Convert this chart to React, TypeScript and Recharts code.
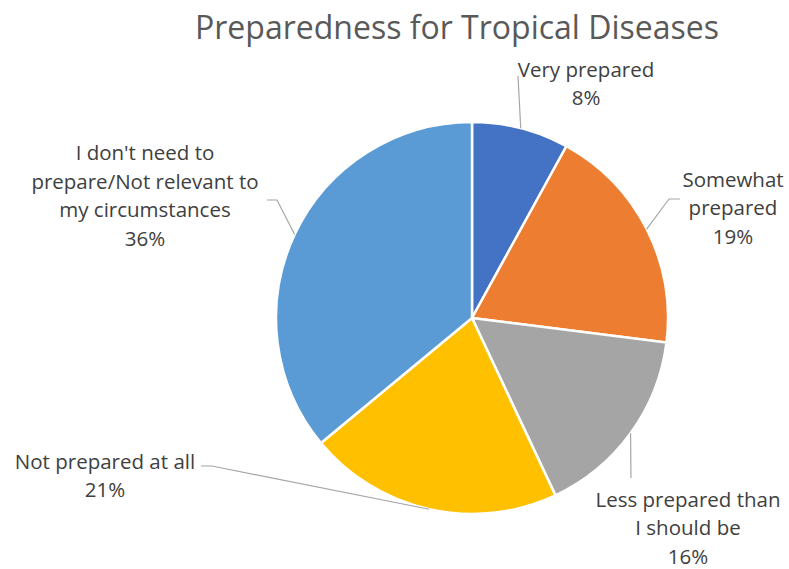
import React from "react";
import { PieChart, Pie, Cell } from "recharts";

const categories = [
  "Very prepared",
  "Somewhat prepared",
  "Less prepared than I should be",
  "Not prepared at all",
  "I don't need to prepare/Not relevant to my circumstances",
];
const shares = [8, 19, 16, 21, 36];
const labelLines = [
  ["Very prepared"],
  ["Somewhat", "prepared"],
  ["Less prepared than", "I should be"],
  ["Not prepared at all"],
  ["I don't need to", "prepare/Not relevant to", "my circumstances"],
];
const colors = ["#4472C4", "#ED7D31", "#A5A5A5", "#FFC000", "#5B9BD5"];

const data = categories.map((name, i) => ({ name, value: shares[i] }));

// label block centre and leader-line start, relative to the pie centre
const labelPlace = [
  { dx: 114, dy: -235, lead: [[46, -242]] },
  { dx: 261, dy: -111, lead: [[208, -119], [197, -119]] },
  { dx: 216, dy: 209, lead: [[159, 160]] },
  { dx: -367, dy: 157, lead: [[-271, 148], [-260, 148]] },
  { dx: -327, dy: -123, lead: [[-205, -118], [-195, -118]] },
];

const RAD = Math.PI / 180;
const LINE_H = 28.5;
const FONT = "'Open Sans', Lato, sans-serif";

function renderLabel(props: any) {
  const { cx, cy, midAngle, outerRadius, index, value } = props;
  const place = labelPlace[index];
  const ax = cx + outerRadius * Math.cos(-midAngle * RAD);
  const ay = cy + outerRadius * Math.sin(-midAngle * RAD);
  const pts = place.lead.map(([x, y]) => `${cx + x},${cy + y}`).concat(`${ax},${ay}`);
  const lines = [...labelLines[index], `${value}%`];
  const top = cy + place.dy - ((lines.length - 1) * LINE_H) / 2;
  return (
    <g key={`lbl-${index}`}>
      <polyline points={pts.join(" ")} fill="none" stroke="#A6A6A6" strokeWidth={1.2} />
      <text
        x={cx + place.dx}
        y={top}
        textAnchor="middle"
        dominantBaseline="central"
        fill="#404040"
        fontSize={20.5}
        fontFamily={FONT}
      >
        {lines.map((t, i) => (
          <tspan key={i} x={cx + place.dx} dy={i === 0 ? 0 : LINE_H}>
            {t}
          </tspan>
        ))}
      </text>
    </g>
  );
}

export default function App() {
  return (
    <div style={{ position: "relative", width: 789, height: 569, background: "#fff" }}>
      <style>{`body{margin:0}`}</style>
      <div
        style={{
          position: "absolute",
          left: 0,
          width: 914,
          top: 5,
          textAlign: "center",
          fontFamily: FONT,
          fontSize: 32,
          color: "#595959",
          lineHeight: "44px",
        }}
      >
        Preparedness for Tropical Diseases
      </div>
      <PieChart width={789} height={569} margin={{ top: 0, right: 0, bottom: 0, left: 0 }}>
        <Pie
          data={data}
          dataKey="value"
          nameKey="name"
          cx={472}
          cy={318}
          outerRadius={196}
          startAngle={90}
          endAngle={-270}
          stroke="#fff"
          strokeWidth={2.5}
          label={renderLabel}
          labelLine={false}
          isAnimationActive={false}
        >
          {data.map((d, i) => (
            <Cell key={d.name} fill={colors[i]} />
          ))}
        </Pie>
      </PieChart>
    </div>
  );
}
